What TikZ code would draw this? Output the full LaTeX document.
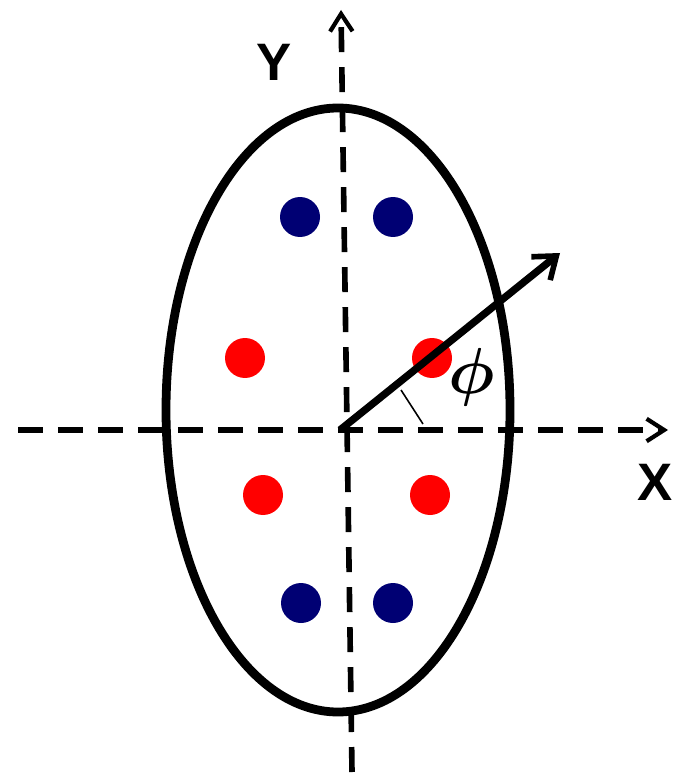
\documentclass[tikz,border=0pt]{standalone}
\usepackage{fontspec}
\setmainfont{Liberation Sans}
\usepackage{amsmath,amssymb}
\usetikzlibrary{arrows.meta,positioning,calc}

\begin{document}
\begin{tikzpicture}[
    x=0.02cm, y=-0.02cm,
    axis/.style={line width=3.2pt, dash pattern=on 0.5cm off 0.3cm, -{Straight Barb[length=0.35cm,width=0.45cm,line width=2.4pt]}},
    blueatom/.style={circle, fill=blue!45!black, minimum size=0.8cm, inner sep=0pt},
    redatom/.style={circle, fill=red, minimum size=0.8cm, inner sep=0pt},
    lbl/.style={font=\fontsize{30}{34}\selectfont\bfseries}
]
    \useasboundingbox (0,0) rectangle (694,773);

    % axes
    \coordinate (o) at (340,430);
    \coordinate (xs) at (18,430);
    \coordinate (xe) at (668,430);
    \coordinate (ys) at (352,772);
    \coordinate (ye) at (341,10);
    \draw[axis] (xs) -- (xe);
    \draw[axis] (ys) -- (ye);
    \node[lbl] (xlab) at (655,482) {X};
    \node[lbl] (ylab) at (274,62) {Y};

    % outline
    \draw[line width=5pt] (338,410) ellipse (172 and 302);

    % atoms
    \node[blueatom] (b1) at (300,217) {};
    \node[blueatom] (b2) at (393,217) {};
    \node[blueatom] (b3) at (301,603) {};
    \node[blueatom] (b4) at (393,603) {};
    \node[redatom] (r1) at (245,358) {};
    \node[redatom] (r2) at (432,358) {};
    \node[redatom] (r3) at (263,495) {};
    \node[redatom] (r4) at (430,495) {};

    % direction and angle
    \coordinate (tip) at (560,253);
    \draw[line width=4.2pt, -{Straight Barb[length=0.4cm,width=0.6cm,line width=3.2pt]}] (o) -- (tip);
    \coordinate (m1) at (401,390);
    \coordinate (m2) at (423,424);
    \draw[line width=0.9pt] (m1) -- (m2);
    \node[scale=3.7] (phi) at (472,377) {$\boldsymbol{\phi}$};
\end{tikzpicture}
\end{document}
